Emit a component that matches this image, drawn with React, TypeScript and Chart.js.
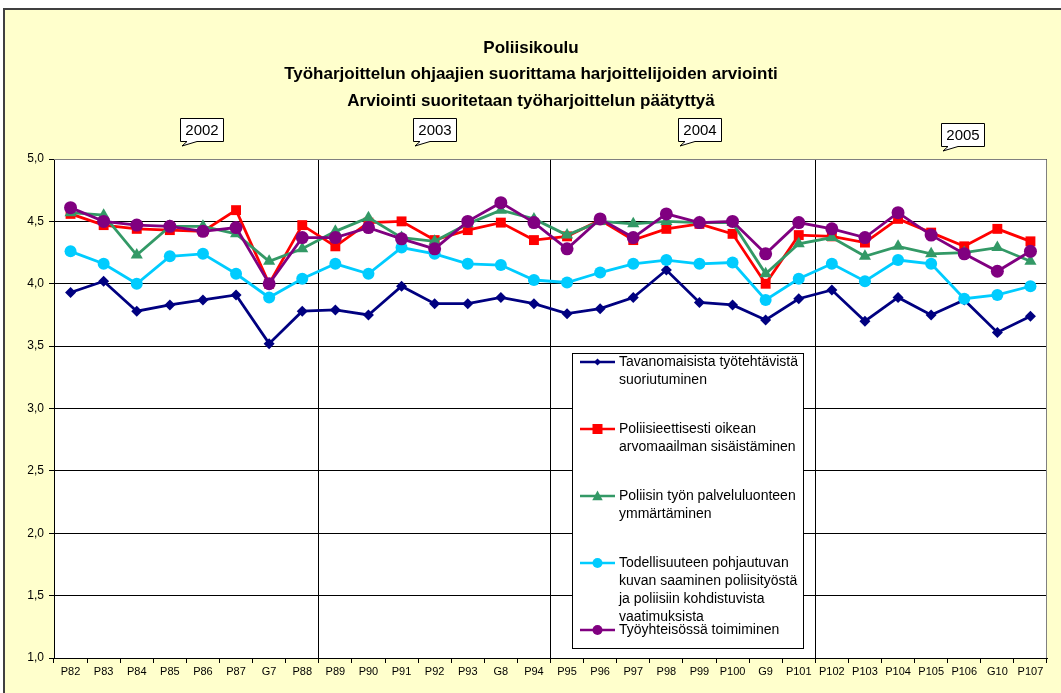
import React, { useEffect, useRef } from 'react';
import { Chart, registerables } from 'chart.js';
Chart.register(...registerables);

const categories = ['P82','P83','P84','P85','P86','P87','G7','P88','P89','P90','P91','P92','P93','G8','P94','P95','P96','P97','P98','P99','P100','G9','P101','P102','P103','P104','P105','P106','G10','P107'];

const tavanomaisista = [3.93,4.02,3.78,3.83,3.87,3.91,3.52,3.78,3.79,3.75,3.98,3.84,3.84,3.89,3.84,3.76,3.80,3.89,4.11,3.85,3.83,3.71,3.88,3.95,3.70,3.89,3.75,3.87,3.61,3.74];
const poliisieettisesti = [4.56,4.47,4.44,4.43,4.42,4.59,4.00,4.47,4.30,4.49,4.50,4.35,4.43,4.49,4.35,4.38,4.51,4.35,4.44,4.48,4.40,4.00,4.39,4.38,4.33,4.52,4.41,4.30,4.44,4.34];
const palveluluonne = [4.57,4.55,4.23,4.46,4.46,4.40,4.18,4.28,4.42,4.53,4.37,4.34,4.48,4.59,4.52,4.39,4.50,4.48,4.50,4.49,4.49,4.08,4.32,4.37,4.22,4.30,4.24,4.25,4.29,4.18];
const todellisuus = [4.26,4.16,4.00,4.22,4.24,4.08,3.89,4.04,4.16,4.08,4.29,4.24,4.16,4.15,4.03,4.01,4.09,4.16,4.19,4.16,4.17,3.87,4.04,4.16,4.02,4.19,4.16,3.88,3.91,3.98];
const tyoyhteiso = [4.61,4.50,4.47,4.46,4.42,4.45,4.00,4.37,4.37,4.45,4.36,4.28,4.50,4.65,4.49,4.28,4.52,4.37,4.56,4.49,4.50,4.24,4.49,4.44,4.37,4.57,4.39,4.24,4.10,4.26];

const seriesLabels = [
  ['Tavanomaisista työtehtävistä', 'suoriutuminen'],
  ['Poliisieettisesti oikean', 'arvomaailman sisäistäminen'],
  ['Poliisin työn palveluluonteen', 'ymmärtäminen'],
  ['Todellisuuteen pohjautuvan', 'kuvan saaminen poliisityöstä', 'ja poliisiin kohdistuvista', 'vaatimuksista'],
  ['Työyhteisössä toimiminen'],
];
const titleLines = ['Poliisikoulu', 'Työharjoittelun ohjaajien suorittama harjoittelijoiden arviointi', 'Arviointi suoritetaan työharjoittelun päätyttyä'];
const yearLabels = ['2002', '2003', '2004', '2005'];
const yearSeparatorIndices = [8, 15, 23];

const FONT = '"Liberation Sans", Arial, sans-serif';
const colors = ['#000080', '#FF0000', '#339966', '#00CCFF', '#800080'];
const pointStyles = ['rectRot', 'rect', 'triangle', 'circle', 'circle'];
const pointRadii = [5.5, 7, 7, 6, 6.5];

function drawMarker(ctx: CanvasRenderingContext2D, style: string, x: number, y: number, r: number, color: string) {
  ctx.save();
  ctx.fillStyle = color;
  ctx.beginPath();
  if (style === 'rectRot') {
    ctx.moveTo(x, y - r); ctx.lineTo(x + r, y); ctx.lineTo(x, y + r); ctx.lineTo(x - r, y); ctx.closePath();
  } else if (style === 'rect') {
    ctx.rect(x - r, y - r, 2 * r, 2 * r);
  } else if (style === 'triangle') {
    ctx.moveTo(x, y - r); ctx.lineTo(x + r * 0.95, y + r * 0.75); ctx.lineTo(x - r * 0.95, y + r * 0.75); ctx.closePath();
  } else {
    ctx.arc(x, y, r, 0, Math.PI * 2);
  }
  ctx.fill();
  ctx.restore();
}

const decorPlugin = {
  id: 'decor',
  beforeDraw(chart: any) {
    const { ctx, width, height, chartArea } = chart;
    ctx.save();
    ctx.fillStyle = '#FFFFCC';
    ctx.fillRect(0, 0, width, height);
    ctx.fillStyle = '#FFFFFF';
    ctx.fillRect(0, 0, width, 8);
    ctx.fillRect(0, 0, 3, height);
    ctx.strokeStyle = '#404040';
    ctx.lineWidth = 2;
    ctx.beginPath();
    ctx.moveTo(4, height + 5);
    ctx.lineTo(4, 9);
    ctx.lineTo(width + 5, 9);
    ctx.stroke();
    ctx.fillStyle = '#FFFFFF';
    ctx.fillRect(chartArea.left, chartArea.top, chartArea.right - chartArea.left, chartArea.bottom - chartArea.top);
    ctx.restore();
  },
  afterDraw(chart: any) {
    const { ctx, chartArea } = chart;
    ctx.save();
    ctx.strokeStyle = '#808080';
    ctx.lineWidth = 1;
    ctx.beginPath();
    ctx.moveTo(chartArea.left, chartArea.top + 0.5);
    ctx.lineTo(chartArea.right - 0.5, chartArea.top + 0.5);
    ctx.lineTo(chartArea.right - 0.5, chartArea.bottom);
    ctx.stroke();

    ctx.fillStyle = '#000';
    ctx.font = `bold 17px ${FONT}`;
    ctx.textAlign = 'center';
    ctx.textBaseline = 'middle';
    const ty = [48, 74.5, 101];
    titleLines.forEach((t, i) => ctx.fillText(t, 531, ty[i]));

    const boxes = [[180, 118], [413, 118], [678, 118], [941, 123]];
    ctx.font = `15px ${FONT}`;
    boxes.forEach(([bx, by], i) => {
      const w = 43, h = 23;
      ctx.fillStyle = '#FFFFFF';
      ctx.strokeStyle = '#000';
      ctx.lineWidth = 1;
      ctx.beginPath();
      ctx.moveTo(bx + 0.5, by + 0.5);
      ctx.lineTo(bx + w + 0.5, by + 0.5);
      ctx.lineTo(bx + w + 0.5, by + h + 0.5);
      ctx.lineTo(bx + 17, by + h + 0.5);
      ctx.lineTo(bx + 2, by + h + 5);
      ctx.lineTo(bx + 7, by + h + 0.5);
      ctx.lineTo(bx + 0.5, by + h + 0.5);
      ctx.closePath();
      ctx.fill();
      ctx.stroke();
      ctx.fillStyle = '#000';
      ctx.textAlign = 'center';
      ctx.fillText(yearLabels[i], bx + w / 2 + 0.5, by + h / 2 + 1);
    });

    const lx = 572, ly = 353, lw = 231, lh = 295;
    ctx.fillStyle = '#FFFFFF';
    ctx.fillRect(lx, ly, lw, lh);
    ctx.strokeStyle = '#000';
    ctx.lineWidth = 1;
    ctx.strokeRect(lx + 0.5, ly + 0.5, lw, lh);
    const itemY = [362, 429, 496, 563, 630];
    const legendR = [3.5, 5, 5.5, 5, 5];
    ctx.font = `14px ${FONT}`;
    ctx.textAlign = 'left';
    ctx.textBaseline = 'middle';
    seriesLabels.forEach((lines, i) => {
      const y = itemY[i];
      ctx.strokeStyle = colors[i];
      ctx.lineWidth = 2.5;
      ctx.beginPath();
      ctx.moveTo(580, y);
      ctx.lineTo(615, y);
      ctx.stroke();
      drawMarker(ctx, pointStyles[i], 597.5, y, legendR[i], colors[i]);
      ctx.fillStyle = '#000';
      lines.forEach((t, j) => ctx.fillText(t, 619, y + j * 18));
    });
    ctx.restore();
  },
};

export default function App() {
  const ref = useRef<HTMLCanvasElement | null>(null);
  useEffect(() => {
    if (!ref.current) return;
    const series = [tavanomaisista, poliisieettisesti, palveluluonne, todellisuus, tyoyhteiso];
    const chart = new Chart(ref.current, {
      type: 'line',
      data: {
        labels: categories,
        datasets: series.map((d, i) => ({
          label: seriesLabels[i].join(' '),
          data: d,
          borderColor: colors[i],
          backgroundColor: colors[i],
          borderWidth: 2.8,
          pointStyle: pointStyles[i] as any,
          pointRadius: pointRadii[i],
          pointBorderWidth: 0,
          pointBackgroundColor: colors[i],
          tension: 0,
          order: 5 - i,
        })),
      },
      options: {
        animation: false,
        responsive: false,
        devicePixelRatio: 1,
        layout: { padding: { top: 159, right: 14, left: 0, bottom: 0 } },
        plugins: { legend: { display: false }, title: { display: false }, tooltip: { enabled: false } },
        scales: {
          x: {
            type: 'category',
            offset: true,
            grid: {
              offset: true,
              color: (c: any) => (yearSeparatorIndices.includes(c.index) ? '#000' : 'rgba(0,0,0,0)'),
              tickColor: '#000',
              tickLength: 5,
              lineWidth: 1,
            },
            border: { color: '#000', width: 1 },
            ticks: { autoSkip: false, maxRotation: 0, minRotation: 0, color: '#000', font: { family: FONT, size: 11 }, padding: 2 },
            afterFit: (s: any) => { s.height = 35; },
          },
          y: {
            min: 1,
            max: 5,
            grid: { color: '#000', tickColor: '#000', tickLength: 5, lineWidth: 1 },
            border: { color: '#000', width: 1 },
            ticks: {
              stepSize: 0.5,
              color: '#000',
              font: { family: FONT, size: 12 },
              padding: 5,
              callback: (v: any) => Number(v).toFixed(1).replace('.', ','),
            },
            afterFit: (s: any) => { s.width = 54; },
          },
        },
      },
      plugins: [decorPlugin],
    });
    return () => chart.destroy();
  }, []);
  return (
    <div style={{ position: 'fixed', left: 0, top: 0, width: 1061, height: 693 }}>
      <canvas ref={ref} width={1061} height={693} style={{ width: 1061, height: 693, display: 'block' }} />
    </div>
  );
}
